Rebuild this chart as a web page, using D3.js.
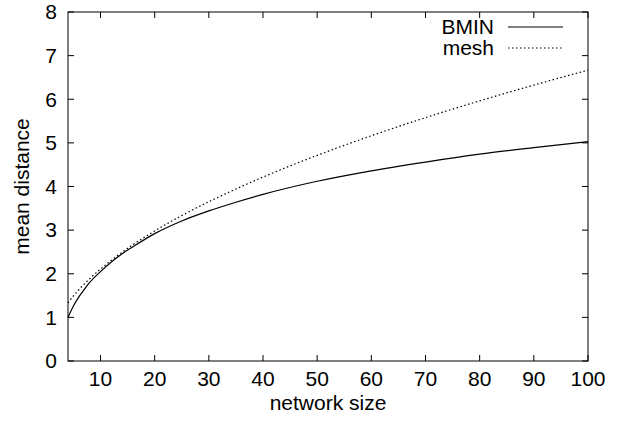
<!DOCTYPE html>
<html><head><meta charset="utf-8">
<script src="https://cdn.jsdelivr.net/npm/d3@7"></script>
<style>body{margin:0;background:#fff}svg{display:block}text{font-family:"Liberation Sans",Arial,sans-serif;fill:#000}</style>
</head><body>
<svg id="c" width="635" height="425"></svg>
<script>
const sizes = [4,5,6,7,8,10,12,14,16,20,25,30,35,40,50,60,70,80,90,100];
const bmin  = [1.00,1.26,1.47,1.64,1.80,2.05,2.27,2.46,2.62,2.92,3.21,3.44,3.64,3.82,4.12,4.36,4.56,4.74,4.89,5.03];
const mesh  = [1.333,1.491,1.633,1.764,1.886,2.108,2.309,2.494,2.667,2.981,3.333,3.651,3.944,4.216,4.714,5.164,5.578,5.963,6.325,6.667];
const xTicks = [10,20,30,40,50,60,70,80,90,100];
const yTicks = [0,1,2,3,4,5,6,7,8];
const seriesNames = ["BMIN","mesh"];

const svg = d3.select("#c");
const L=68,R=588,T=12,B=361;
const x = d3.scaleLinear().domain([4,100]).range([L,R]);
const y = d3.scaleLinear().domain([0,8]).range([B,T]);
const fs = 21, tl = 6;

const g = svg.append("g");
xTicks.forEach(t=>{
  g.append("line").attr("x1",x(t)).attr("x2",x(t)).attr("y1",B).attr("y2",B-tl).attr("stroke","#000");
  g.append("line").attr("x1",x(t)).attr("x2",x(t)).attr("y1",T).attr("y2",T+tl).attr("stroke","#000");
  g.append("text").attr("x",x(t)).attr("y",B+25).attr("text-anchor","middle").attr("font-size",fs).text(t);
});
yTicks.forEach(t=>{
  g.append("line").attr("x1",L).attr("x2",L+tl).attr("y1",y(t)).attr("y2",y(t)).attr("stroke","#000");
  g.append("line").attr("x1",R).attr("x2",R-tl).attr("y1",y(t)).attr("y2",y(t)).attr("stroke","#000");
  g.append("text").attr("x",57).attr("y",y(t)).attr("dy","0.35em").attr("text-anchor","end").attr("font-size",fs).text(t);
});
g.append("rect").attr("x",L).attr("y",T).attr("width",R-L).attr("height",B-T).attr("fill","none").attr("stroke","#000").attr("stroke-width",1);

const line = d3.line().x((d,i)=>x(sizes[i])).y(d=>y(d)).curve(d3.curveMonotoneX);
svg.append("path").datum(bmin).attr("d",line).attr("fill","none").attr("stroke","#000").attr("stroke-width",1.2);
svg.append("path").datum(mesh).attr("d",line).attr("fill","none").attr("stroke","#000").attr("stroke-width",1.2).attr("stroke-dasharray","1.5,2.5");

const lg = [{n:seriesNames[0],dash:null,yy:27},{n:seriesNames[1],dash:"1.5,2.5",yy:48}];
lg.forEach(d=>{
  svg.append("text").attr("x",494).attr("y",d.yy).attr("dy","0.35em").attr("text-anchor","end").attr("font-size",fs).text(d.n);
  const l = svg.append("line").attr("x1",508).attr("x2",563).attr("y1",d.yy).attr("y2",d.yy).attr("stroke","#000").attr("stroke-width",1.2);
  if(d.dash) l.attr("stroke-dasharray",d.dash);
});

svg.append("text").attr("x",(L+R)/2).attr("y",403).attr("dy","0.35em").attr("text-anchor","middle").attr("font-size",fs).text("network size");
svg.append("text").attr("transform",`translate(22,${(T+B)/2}) rotate(-90)`).attr("dy","0.35em").attr("text-anchor","middle").attr("font-size",fs).text("mean distance");
</script>
</body></html>
